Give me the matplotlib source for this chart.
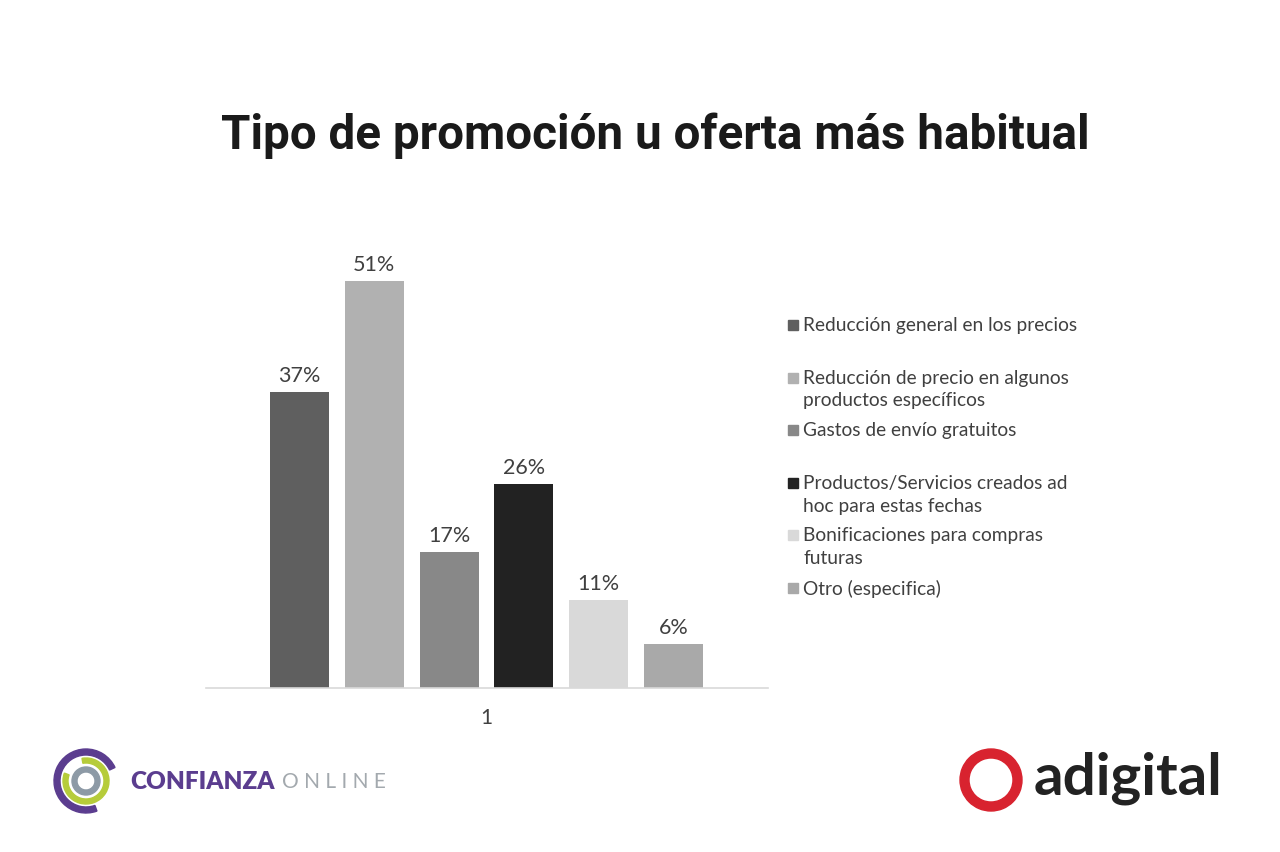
import matplotlib
matplotlib.use("Agg")
import matplotlib.pyplot as plt
from matplotlib.patches import Rectangle, Wedge

# datos del gráfico
categorias = [
    "Reducción general en los precios",
    "Reducción de precio en algunos\nproductos específicos",
    "Gastos de envío gratuitos",
    "Productos/Servicios creados ad\nhoc para estas fechas",
    "Bonificaciones para compras\nfuturas",
    "Otro (especifica)",
]
valores = [37, 51, 17, 25.5, 11, 5.5]
etiquetas = ["37%", "51%", "17%", "26%", "11%", "6%"]
colores = ["#5f5f5f", "#b1b1b1", "#888888", "#222222", "#d9d9d9", "#a9a9a9"]
grupo = "1"
titulo = "Tipo de promoción u oferta más habitual"

W, H = 1280, 853
fig = plt.figure(figsize=(W / 100, H / 100), dpi=100)
fig.patch.set_facecolor("white")

# ejes de las barras (en píxeles de la imagen)
x0, x1, ybase, ytop = 206, 768, 689, 240
ax = fig.add_axes([x0 / W, (H - ybase) / H, (x1 - x0) / W, (ybase - ytop) / H])
posiciones = list(range(len(valores)))
ax.bar(posiciones, valores, width=0.787, color=colores, zorder=2)
for p, v, t in zip(posiciones, valores, etiquetas):
    ax.annotate(t, (p, v), xytext=(0, 5), textcoords="offset points",
                ha="center", va="bottom", fontsize=15.5, color="#404040",
                family="Lato")
ax.set_xlim(-1.247, 6.26)
ax.set_ylim(0, 56.2)
ax.set_yticks([])
ax.set_xticks([2.5])
ax.set_xticklabels([grupo], fontsize=15, color="#404040", family="Lato")
ax.tick_params(axis="x", length=0, pad=14)
for s in ["top", "right", "left"]:
    ax.spines[s].set_visible(False)
ax.spines["bottom"].set_color("#d9d9d9")
ax.spines["bottom"].set_linewidth(1.2)
ax.set_facecolor("none")

# capa superpuesta para título, leyenda y logotipos
ov = fig.add_axes([0, 0, 1, 1], zorder=-1)
ov.set_xlim(0, W)
ov.set_ylim(H, 0)
ov.axis("off")

ov.text(655, 136, titulo, ha="center", va="center", fontsize=34.3,
        fontweight="bold", color="#1a1a1a", family="Roboto")

# leyenda manual con el espaciado de Excel
for i, (cat, col) in enumerate(zip(categorias, colores)):
    y = 326 + i * 52.6
    ov.add_patch(Rectangle((788, y - 5), 10, 10, color=col))
    ov.text(803, y - 9, cat, ha="left", va="top", fontsize=13.8,
            color="#404040", family="Lato", linespacing=1.42)

# logotipo Confianza Online
cx, cy = 86, 782
ov.add_patch(Wedge((cx, cy), 32, 70, 335, width=6, color="#5b3d8f"))
ov.add_patch(Wedge((cx, cy), 23, -100, 200, width=5, color="#b6cc3a"))
ov.add_patch(Wedge((cx, cy), 14, 0, 360, width=5, color="#8d9aa6"))
ov.text(130, 782, "CONFIANZA", ha="left", va="center", fontsize=17.5,
        fontweight="heavy", color="#5b3d8f", family="Lato")
ov.text(282, 782, "O N L I N E", ha="left", va="center", fontsize=15,
        fontweight="normal", color="#a3a9ae", family="Lato")

# logotipo adigital
ov.add_patch(Wedge((991, 781), 31, 0, 360, width=9, color="#d8232f"))
ov.text(1034, 778, "adigital", ha="left", va="center", fontsize=42,
        fontweight="bold", color="#222222", family="Lato")

fig.savefig("out.png", dpi=100, facecolor="white")
